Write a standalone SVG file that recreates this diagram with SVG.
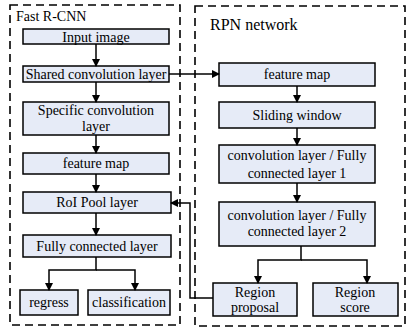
<svg xmlns="http://www.w3.org/2000/svg" width="407" height="330" viewBox="0 0 407 330">
<style>
.box{fill:#e6ebf7;stroke:#000;stroke-width:1.5}
.grp{fill:none;stroke:#000;stroke-width:1.6;stroke-dasharray:8,5}
.t{font-family:"Liberation Serif","Times New Roman",serif;font-size:14px;fill:#000;text-anchor:middle}
.lbl{font-family:"Liberation Serif","Times New Roman",serif;fill:#000}
.c{fill:none;stroke:#000;stroke-width:1.5}
</style>
<defs>
<marker id="ah" markerWidth="8" markerHeight="8" refX="7" refY="4" orient="auto" markerUnits="userSpaceOnUse">
<path d="M0,0 L8,4 L0,8 Z" fill="#000"/>
</marker>
</defs>
<rect class="grp" x="10" y="5" width="170" height="320"/>
<rect class="grp" x="195" y="6" width="210" height="320"/>
<text class="lbl" x="16" y="21" font-size="14">Fast R-CNN</text>
<text class="lbl" x="210" y="30" font-size="16">RPN network</text>

<g id="input-image"><rect class="box" x="23" y="29" width="146" height="15"/><text class="t" x="96" y="41.5">Input image</text></g>
<g id="shared-conv"><rect class="box" x="23" y="66" width="146" height="16"/><text class="t" x="96" y="79">Shared convolution layer</text></g>
<g id="specific-conv"><rect class="box" x="23" y="102" width="146" height="33"/><text class="t" x="96" y="115">Specific convolution</text><text class="t" x="96" y="131">layer</text></g>
<g id="feature-map-l"><rect class="box" x="23" y="153" width="146" height="21"/><text class="t" x="96" y="168">feature map</text></g>
<g id="roi-pool"><rect class="box" x="23" y="192" width="148" height="21"/><text class="t" x="97" y="207">RoI Pool layer</text></g>
<g id="fc-layer"><rect class="box" x="23" y="235" width="148" height="22"/><text class="t" x="97" y="251">Fully connected layer</text></g>
<g id="regress"><rect class="box" x="20" y="290" width="58" height="25"/><text class="t" x="49" y="307">regress</text></g>
<g id="classification"><rect class="box" x="88" y="290" width="82" height="25"/><text class="t" x="129" y="307">classification</text></g>

<g id="feature-map-r"><rect class="box" x="219" y="63" width="156" height="23"/><text class="t" x="297" y="79">feature map</text></g>
<g id="sliding-window"><rect class="box" x="219" y="102" width="156" height="26"/><text class="t" x="297" y="120">Sliding window</text></g>
<g id="conv-fc-1"><rect class="box" x="219" y="145" width="156" height="38"/><text class="t" x="297" y="160">convolution layer / Fully</text><text class="t" x="297" y="178">connected layer 1</text></g>
<g id="conv-fc-2"><rect class="box" x="219" y="202" width="156" height="44"/><text class="t" x="297" y="220">convolution layer / Fully</text><text class="t" x="297" y="236">connected layer 2</text></g>
<g id="region-proposal"><rect class="box" x="213" y="283" width="84" height="33"/><text class="t" x="255" y="297">Region</text><text class="t" x="255" y="312">proposal</text></g>
<g id="region-score"><rect class="box" x="313" y="283" width="85" height="33"/><text class="t" x="355" y="297">Region</text><text class="t" x="355" y="312">score</text></g>

<g id="connectors">
<line class="c" x1="96" y1="44" x2="96" y2="66" marker-end="url(#ah)"/>
<line class="c" x1="96" y1="82" x2="96" y2="102" marker-end="url(#ah)"/>
<line class="c" x1="96" y1="135" x2="96" y2="153" marker-end="url(#ah)"/>
<line class="c" x1="96" y1="174" x2="96" y2="192" marker-end="url(#ah)"/>
<line class="c" x1="96" y1="213" x2="96" y2="235" marker-end="url(#ah)"/>
<polyline class="c" points="96,257 96,270 49,270 49,290" marker-end="url(#ah)"/>
<polyline class="c" points="96,270 135,270 135,290" marker-end="url(#ah)"/>
<line class="c" x1="169" y1="74" x2="219" y2="74" marker-end="url(#ah)"/>
<line class="c" x1="297" y1="86" x2="297" y2="102" marker-end="url(#ah)"/>
<line class="c" x1="297" y1="128" x2="297" y2="145" marker-end="url(#ah)"/>
<line class="c" x1="297" y1="183" x2="297" y2="202" marker-end="url(#ah)"/>
<polyline class="c" points="301,246 301,260 258,260 258,283" marker-end="url(#ah)"/>
<polyline class="c" points="301,260 367,260 367,283" marker-end="url(#ah)"/>
<polyline class="c" points="213,298 190,298 190,203 171,203" marker-end="url(#ah)"/>
</g>
</svg>
